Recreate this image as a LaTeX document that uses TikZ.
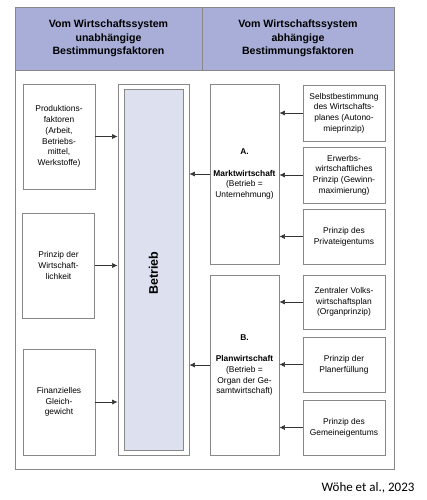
\documentclass[tikz,border=0pt]{standalone}
\usepackage{fontspec}
\setmainfont{Liberation Sans}
\newfontfamily\citefont{Carlito}
\usetikzlibrary{arrows.meta}
\definecolor{headblue}{HTML}{A8AED8}
\definecolor{betriebfill}{HTML}{DDE0EE}
\definecolor{edgegray}{HTML}{888888}
\tikzset{
  box/.style={draw=edgegray, line width=0.9pt, fill=white, align=center, inner sep=0pt,
    font=\fontsize{8.4}{10.7}\selectfont},
  arr/.style={-{Latex[length=5.5pt,width=5pt]}, line width=0.6pt, black!80},
}
\begin{document}
\begin{tikzpicture}[x=1pt,y=-1pt]
\useasboundingbox (0,0) rectangle (427,500);
% outer frame and header
\draw[edgegray, line width=0.9pt] (15,7) rectangle (394,469);
\fill[headblue] (15,7) rectangle (394,70);
\draw[edgegray, line width=0.9pt] (15,7) rectangle (394,70);
\draw[edgegray, line width=0.9pt] (202,7) -- (202,70);
\node[align=center, font=\bfseries\fontsize{10.6}{13.5}\selectfont] (h1) at (108.5,38.5)
  {Vom Wirtschaftssystem\\unabhängige\\Bestimmungsfaktoren};
\node[align=center, font=\bfseries\fontsize{10.6}{13.5}\selectfont] (h2) at (298,38.5)
  {Vom Wirtschaftssystem\\abhängige\\Bestimmungsfaktoren};
% Betrieb
\node[box, minimum width=71pt, minimum height=371pt] (betrO) at (153.5,269.5) {};
\node[draw=edgegray, line width=0.9pt, fill=betriebfill, minimum width=59pt, minimum height=361pt] (betrI) at (153.5,269.5) {};
\node[rotate=90, font=\bfseries\fontsize{12.5}{14}\selectfont] (betrT) at (153.5,273) {Betrieb};
% left boxes
\node[box, minimum width=72pt, minimum height=105pt] (L1) at (59,136.5)
  {Produktions-\\faktoren\\(Arbeit,\\Betriebs-\\mittel,\\Werkstoffe)};
\node[box, minimum width=72pt, minimum height=105pt] (L2) at (58.5,265.5)
  {Prinzip der\\Wirtschaft-\\lichkeit};
\node[box, minimum width=72pt, minimum height=106pt] (L3) at (59,402)
  {Finanzielles\\Gleich-\\gewicht};
\draw[arr] (L1.east) -- (L1.east -| betrO.west);
\draw[arr] (L2.east) -- (L2.east -| betrO.west);
\draw[arr] (L3.east) -- (L3.east -| betrO.west);
% A and B
\node[box, minimum width=69pt, minimum height=180pt] (A) at (244.5,174)
  {\textbf{A.}\\[10.7pt]\textbf{Marktwirtschaft}\\(Betrieb =\\Unternehmung)};
\node[box, minimum width=69pt, minimum height=180pt] (B) at (244.5,365)
  {\textbf{B.}\\[10.7pt]\textbf{Planwirtschaft}\\(Betrieb =\\Organ der Ge-\\samtwirtschaft)};
\draw[arr] (A.west) -- (A.west -| betrO.east);
\draw[arr] (B.west) -- (B.west -| betrO.east);
% right boxes
\node[box, minimum width=82pt, minimum height=56pt] (R1) at (344,113)
  {Selbstbestimmung\\des Wirtschafts-\\planes (Autono-\\mieprinzip)};
\node[box, minimum width=82pt, minimum height=56pt] (R2) at (344,175)
  {Erwerbs-\\wirtschaftliches\\Prinzip (Gewinn-\\maximierung)};
\node[box, minimum width=82pt, minimum height=55pt] (R3) at (344,236.5)
  {Prinzip des\\Privateigentums};
\node[box, minimum width=82pt, minimum height=54pt] (R4) at (344,302)
  {Zentraler Volks-\\wirtschaftsplan\\(Organprinzip)};
\node[box, minimum width=82pt, minimum height=55pt] (R5) at (344,364.5)
  {Prinzip der\\Planerfüllung};
\node[box, minimum width=82pt, minimum height=55pt] (R6) at (344,427.5)
  {Prinzip des\\Gemeineigentums};
\foreach \r in {R1,R2,R3}{\draw[arr] (\r.west) -- (\r.west -| A.east);}
\foreach \r in {R4,R5,R6}{\draw[arr] (\r.west) -- (\r.west -| B.east);}
% citation
\node[anchor=east, font=\citefont\fontsize{13}{15}\selectfont] (cite) at (418,488) {Wöhe et al., 2023};
\end{tikzpicture}
\end{document}
